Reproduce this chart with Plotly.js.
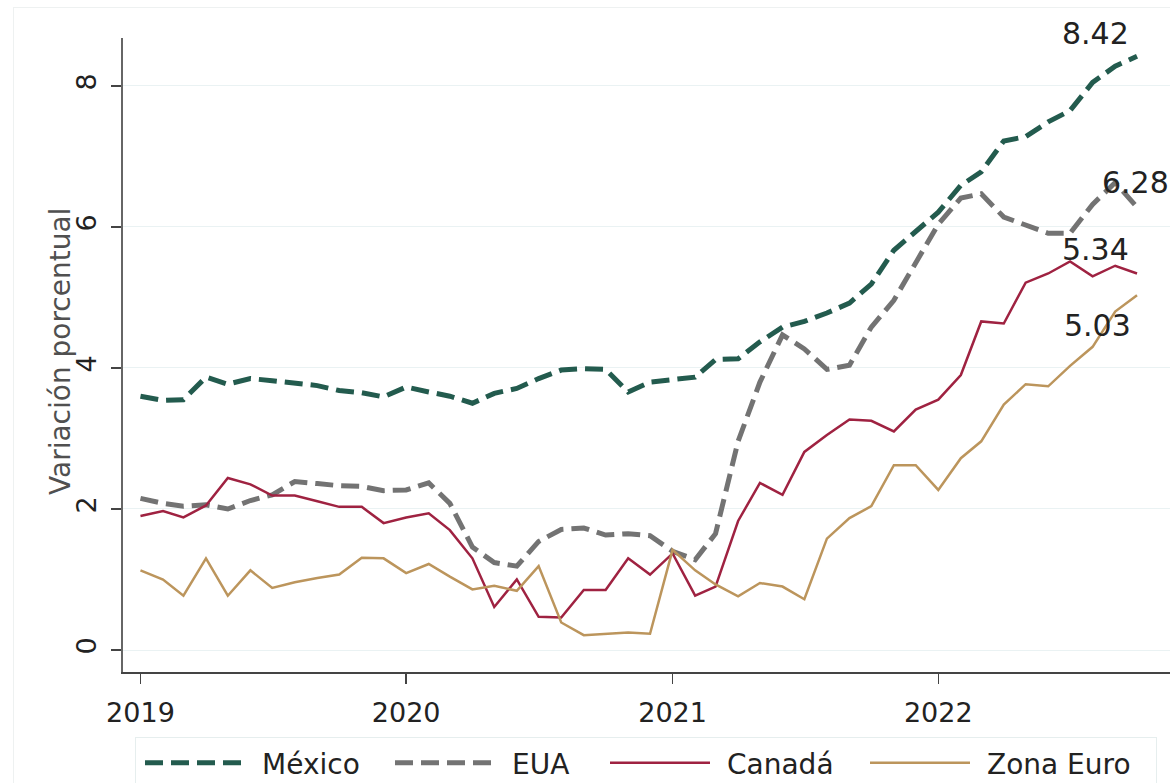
<!DOCTYPE html>
<html>
<head>
<meta charset="utf-8">
<script src="https://cdn.plot.ly/plotly-3.0.1.min.js"></script>
<style>
  html, body { margin: 0; padding: 0; background: #ffffff; overflow: hidden; width: 1170px; height: 783px; }
  #frame { position: absolute; left: 13px; top: 7px; width: 1300px; height: 900px; border: 1px solid #eef1f1; box-sizing: border-box; }
  #chart { position: absolute; left: 0; top: 0; width: 1232px; height: 783px; }
</style>
</head>
<body>
<div id="frame"></div>
<div id="chart"></div>
<script>
// Monthly dates: Jan 2019 - Oct 2022
var months = [
  '2019-01-01','2019-02-01','2019-03-01','2019-04-01','2019-05-01','2019-06-01','2019-07-01','2019-08-01','2019-09-01','2019-10-01','2019-11-01','2019-12-01',
  '2020-01-01','2020-02-01','2020-03-01','2020-04-01','2020-05-01','2020-06-01','2020-07-01','2020-08-01','2020-09-01','2020-10-01','2020-11-01','2020-12-01',
  '2021-01-01','2021-02-01','2021-03-01','2021-04-01','2021-05-01','2021-06-01','2021-07-01','2021-08-01','2021-09-01','2021-10-01','2021-11-01','2021-12-01',
  '2022-01-01','2022-02-01','2022-03-01','2022-04-01','2022-05-01','2022-06-01','2022-07-01','2022-08-01','2022-09-01','2022-10-01'
];

var mexico = [3.60,3.54,3.55,3.87,3.77,3.85,3.82,3.78,3.75,3.68,3.65,3.59,
              3.73,3.66,3.60,3.50,3.64,3.71,3.85,3.97,3.99,3.98,3.66,3.80,
              3.84,3.87,4.12,4.13,4.37,4.58,4.66,4.78,4.92,5.19,5.67,5.94,
              6.21,6.59,6.78,7.22,7.28,7.49,7.65,8.05,8.28,8.42];

var eua = [2.15,2.08,2.04,2.06,2.00,2.12,2.20,2.39,2.36,2.33,2.32,2.26,
           2.27,2.37,2.08,1.46,1.24,1.19,1.54,1.71,1.73,1.63,1.65,1.62,
           1.40,1.28,1.65,2.96,3.80,4.47,4.27,3.98,4.04,4.58,4.96,5.48,
           6.04,6.41,6.47,6.14,6.02,5.91,5.91,6.32,6.63,6.28];

var canada = [1.90,1.97,1.88,2.05,2.44,2.35,2.19,2.19,2.11,2.03,2.03,1.80,
              1.88,1.94,1.70,1.30,0.61,1.00,0.47,0.46,0.85,0.85,1.30,1.07,
              1.37,0.77,0.90,1.83,2.37,2.20,2.81,3.05,3.27,3.25,3.10,3.41,
              3.55,3.90,4.66,4.63,5.21,5.34,5.51,5.30,5.45,5.34];

var zonaEuro = [1.13,1.00,0.77,1.30,0.77,1.13,0.88,0.96,1.02,1.07,1.31,1.30,
                1.09,1.22,1.04,0.86,0.91,0.84,1.19,0.39,0.21,0.23,0.25,0.23,
                1.42,1.13,0.93,0.76,0.95,0.90,0.72,1.58,1.87,2.04,2.62,2.62,
                2.27,2.72,2.96,3.48,3.77,3.74,4.03,4.30,4.80,5.03];

var seriesNames = ['México', 'EUA', 'Canadá', 'Zona Euro'];
var xTickVals = ['2019-01-01','2020-01-01','2021-01-01','2022-01-01','2023-01-01'];
var xTickText = ['2019','2020','2021','2022','2023'];
var yTickVals = [0, 2, 4, 6, 8];
var yTickText = ['0', '2', '4', '6', '8'];
var yTitle = 'Variación porcentual';

var FONT = 'DejaVu Sans, sans-serif';
var colors = ['#235B4E', '#737373', '#9F2241', '#BC955C'];

var traces = [
  {x: months, y: mexico, name: seriesNames[0], mode: 'lines',
   line: {color: colors[0], width: 5, dash: '18px,8px'}},
  {x: months, y: eua, name: seriesNames[1], mode: 'lines',
   line: {color: colors[1], width: 5, dash: '18px,8px'}},
  {x: months, y: canada, name: seriesNames[2], mode: 'lines',
   line: {color: colors[2], width: 2.5}},
  {x: months, y: zonaEuro, name: seriesNames[3], mode: 'lines',
   line: {color: colors[3], width: 2.5}}
];

var last = months.length - 1;
function endLabel(series, xs, ys) {
  return {
    x: months[last], y: series[last], xref: 'x', yref: 'y',
    text: series[last].toFixed(2), showarrow: false,
    xanchor: 'center', yanchor: 'middle', xshift: xs, yshift: ys,
    font: {family: FONT, size: 30, color: '#222222'}
  };
}

var layout = {
  width: 1232, height: 783,
  margin: {l: 123, r: 12, t: 38, b: 111, autoexpand: false},
  paper_bgcolor: 'rgba(0,0,0,0)',
  plot_bgcolor: 'rgba(0,0,0,0)',
  font: {family: FONT, size: 27, color: '#222222'},
  showlegend: true,
  xaxis: {
    type: 'date',
    range: ['2018-12-08', '2023-01-23'],
    tickvals: xTickVals, ticktext: xTickText,
    showgrid: false, zeroline: false,
    showline: true, linecolor: '#444444', linewidth: 1.5,
    ticks: 'outside', ticklen: 10, tickwidth: 1.5, tickcolor: '#444444',
    tickfont: {family: FONT, size: 27, color: '#222222'},
    ticklabelstandoff: 6
  },
  yaxis: {
    range: [-0.312, 8.68],
    tickvals: yTickVals, ticktext: yTickText,
    tickangle: -90,
    showgrid: true, gridcolor: '#eaf2f3', gridwidth: 1,
    zeroline: false,
    showline: true, linecolor: '#666666', linewidth: 2,
    ticks: 'outside', ticklen: 10, tickwidth: 1.5, tickcolor: '#444444',
    tickfont: {family: FONT, size: 27, color: '#222222'},
    ticklabelstandoff: 4
  },
  legend: {
    orientation: 'h',
    x: 0.0105, xanchor: 'left',
    y: -0.1025, yanchor: 'top',
    bordercolor: '#e6eeee', borderwidth: 1,
    bgcolor: 'rgba(255,255,255,0)',
    font: {family: FONT, size: 28, color: '#222222'},
    itemwidth: 112,
    entrywidth: 128,
    traceorder: 'normal'
  },
  annotations: [
    endLabel(mexico, -42, 23),
    endLabel(eua, -2, 25),
    endLabel(canada, -42, 23.5),
    endLabel(zonaEuro, -40, -30),
    {
      xref: 'paper', yref: 'paper', x: 0, y: 0.5,
      xanchor: 'center', yanchor: 'middle', xshift: -63, yshift: 3,
      text: yTitle, textangle: -90, showarrow: false,
      font: {family: FONT, size: 28, color: '#505050'}
    }
  ]
};

// Desired left edge (page px) of each legend key, matching the reference layout
var legendKeyLeft = [145, 395, 610, 870];

Plotly.newPlot('chart', traces, layout, {displayModeBar: false, staticPlot: true}).then(function () {
  var groups = document.querySelectorAll('.legend g.traces');
  groups.forEach(function (g, i) {
    var p = g.querySelector('path.js-line');
    if (!p) return;
    p.setAttribute('d', 'M5,0h100');
    var r = p.getBoundingClientRect();
    var dx = legendKeyLeft[i] - r.left;
    var tr = g.getAttribute('transform') || '';
    var m = tr.match(/translate\(\s*([-\d.e]+)[ ,]+([-\d.e]+)\s*\)/);
    if (m) {
      g.setAttribute('transform', 'translate(' + (parseFloat(m[1]) + dx) + ',' + m[2] + ')');
    }
  });
});
</script>
</body>
</html>
